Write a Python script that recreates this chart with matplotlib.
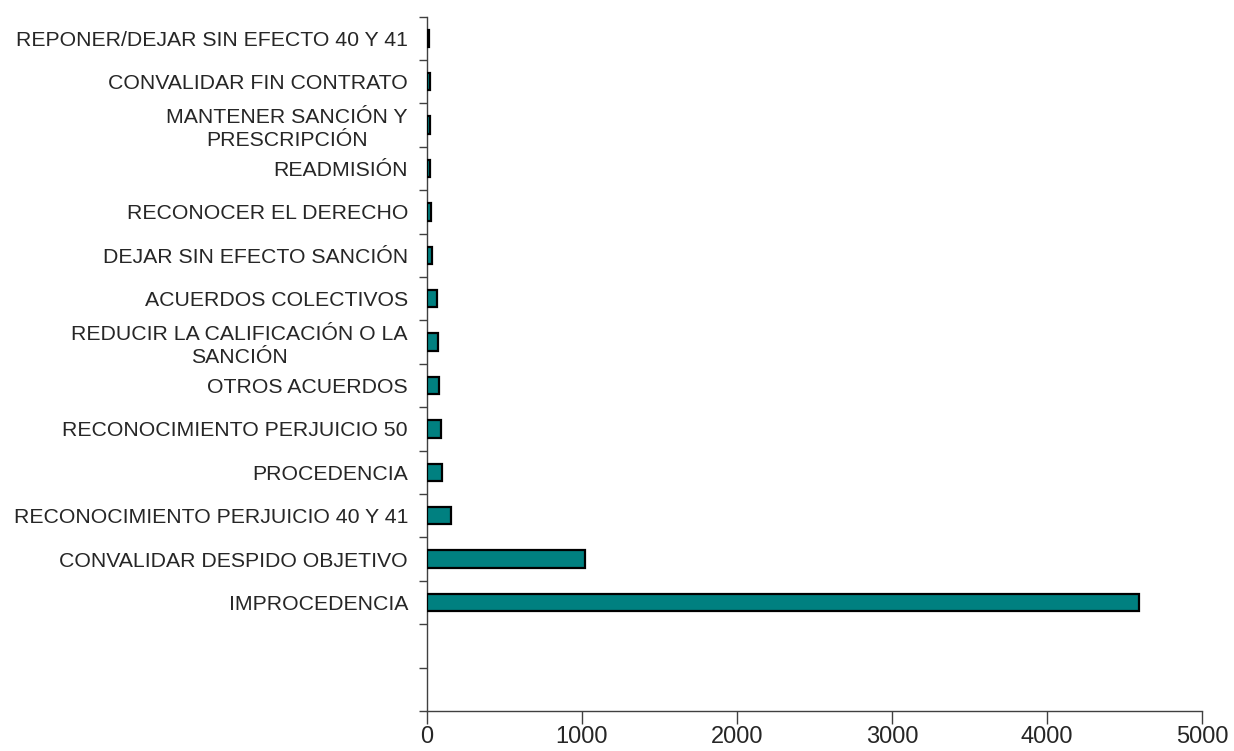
import matplotlib
matplotlib.use("Agg")
import matplotlib.pyplot as plt
import numpy as np

plt.rcParams['font.family'] = ['Liberation Sans', 'DejaVu Sans']

categories = [
    "REPONER/DEJAR SIN EFECTO 40 Y 41",
    "CONVALIDAR FIN CONTRATO",
    "MANTENER SANCIÓN Y\nPRESCRIPCIÓN",
    "READMISIÓN",
    "RECONOCER EL DERECHO",
    "DEJAR SIN EFECTO SANCIÓN",
    "ACUERDOS COLECTIVOS",
    "REDUCIR LA CALIFICACIÓN O LA\nSANCIÓN",
    "OTROS ACUERDOS",
    "RECONOCIMIENTO PERJUICIO 50",
    "PROCEDENCIA",
    "RECONOCIMIENTO PERJUICIO 40 Y 41",
    "CONVALIDAR DESPIDO OBJETIVO",
    "IMPROCEDENCIA",
]
values = [12, 18, 24, 24, 25, 33, 64, 75, 81, 90, 99, 155, 1022, 4594]
empty_slots = 2
xticks = [0, 1000, 2000, 3000, 4000, 5000]

fig = plt.figure(figsize=(12.34, 7.51), dpi=100)
ax = fig.add_axes([0.3458, 0.0533, 0.9743 - 0.3458, 0.9778 - 0.0533])

n_slots = len(categories) + empty_slots
pos = np.arange(len(categories))
ax.barh(pos, values, height=0.4, color='#008080', edgecolor='black', linewidth=1.6, zorder=3)

ax.set_ylim(n_slots - 0.5, -0.5)
ax.set_xlim(xticks[0], xticks[-1])

ax.set_yticks(np.arange(-0.5, n_slots, 1.0))
ax.set_yticklabels([])
ax.set_yticks(pos, minor=True)
ax.set_yticklabels(categories, minor=True, fontsize=15.3, color='#262626',
                   multialignment='center')
for lab in ax.get_yticklabels(minor=True):
    lab.set_linespacing(1.25)
ax.tick_params(axis='y', which='major', length=6, width=1, color='#404040', direction='out')
ax.tick_params(axis='y', which='minor', length=0, pad=13.5)

ax.set_xticks(xticks)
ax.set_xticklabels([str(t) for t in xticks], fontsize=17, color='#262626')
ax.tick_params(axis='x', length=9, width=1, color='#404040', pad=2)

for s in ['top', 'right']:
    ax.spines[s].set_visible(False)
for s in ['left', 'bottom']:
    ax.spines[s].set_color('#404040')
    ax.spines[s].set_linewidth(1)

fig.savefig('out.png', dpi=100)
